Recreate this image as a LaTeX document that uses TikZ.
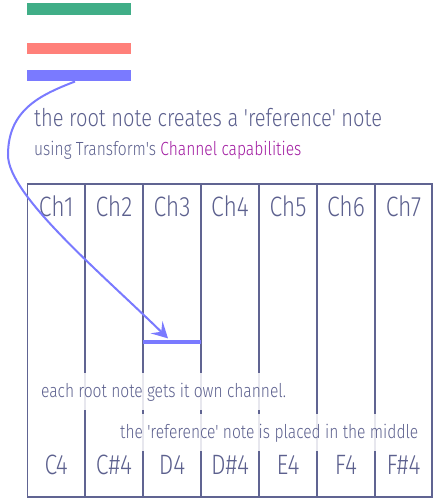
\documentclass[tikz,border=0pt]{standalone}
\usepackage{fontspec}
\setmainfont{Fira Sans Light}[FakeStretch=0.82, Ligatures=TeXOff]
\usetikzlibrary{arrows.meta}
\definecolor{ink}{RGB}{92,96,142}
\definecolor{gridc}{RGB}{96,100,146}
\definecolor{mag}{RGB}{160,24,160}
\definecolor{barG}{RGB}{64,174,135}
\definecolor{barR}{RGB}{255,128,122}
\definecolor{barB}{RGB}{122,122,255}
\tikzset{
  bar/.style={fill=#1, minimum width=104pt, minimum height=11.5pt, inner sep=0pt, outer sep=0pt},
  col/.style={draw=gridc, line width=1.8pt, minimum height=313pt, inner sep=0pt, outer sep=0pt},
  chlab/.style={text=ink, anchor=base, inner sep=0pt, font=\fontsize{28}{32}\selectfont},
  notelab/.style={text=ink, anchor=base, inner sep=0pt, font=\fontsize{28}{32}\selectfont},
  toptext/.style={text=ink, anchor=base west, inner sep=0pt},
  band/.style={text=ink, anchor=base west, fill=white, fill opacity=0.85, text opacity=1, inner xsep=10pt, inner ysep=9.5pt, font=\fontsize{19}{22}\selectfont},
  refbar/.style={fill=barB, minimum width=58pt, minimum height=4pt, inner sep=0pt, outer sep=0pt},
  link/.style={draw=barB, line width=2pt, -{Stealth[length=16pt, width=17pt, inset=6.5pt]}}
}
\begin{document}
\begin{tikzpicture}[x=1pt, y=-1pt]
\useasboundingbox (0,0) rectangle (434,500);
\fill[white] (0,0) rectangle (434,500);
% colour bars
\node[bar=barG] (bg) at (79,9) {};
\node[bar=barR] (br) at (79,48.5) {};
\node[bar=barB] (bb) at (79,75.75) {};
% top texts
\node[toptext, font=\fontsize{24.5}{28}\selectfont] (t1) at (34,127) {the root note creates a 'reference' note};
\node[toptext, font=\fontsize{19}{22}\selectfont] (t2) at (34,155) {using Transform's \textcolor{mag}{Channel capabilities}};
% columns
\foreach \a/\b [count=\i] in {27.5/85,85/143,143/201,201/259,259/317,317/375,375/432} {
  \node[col, minimum width={(\b-\a)*1pt}] (c\i) at ({(\a+\b)/2}, 340.5) {};
  \node[chlab] (ch\i) at ({(\a+\b)/2}, 216.5) {Ch\i};
}
\foreach \n/\a/\b [count=\i] in {C4/27.5/85,C\#4/85/143,D4/143/201,D\#4/201/259,E4/259/317,F4/317/375,F\#4/375/432} {
  \node[notelab] (n\i) at ({(\a+\b)/2}, 474.5) {\n};
}
% reference note bar
\node[refbar] (ref) at (172,342.4) {};
% explanatory texts
\node[band] (e1) at (31,397) {each root note gets it own channel.};
\node[band] (e2) at (110,438) {the 'reference' note is placed in the middle};
% link
\coordinate (s) at ([xshift=-4pt]bb.south);
\coordinate (e) at ([xshift=-4pt, yshift=2pt]ref.north);
\draw[link] (s) .. controls (40,95) and (8,110) .. (8,155) .. controls (8,195) and (100,272) .. (e);
\end{tikzpicture}
\end{document}
